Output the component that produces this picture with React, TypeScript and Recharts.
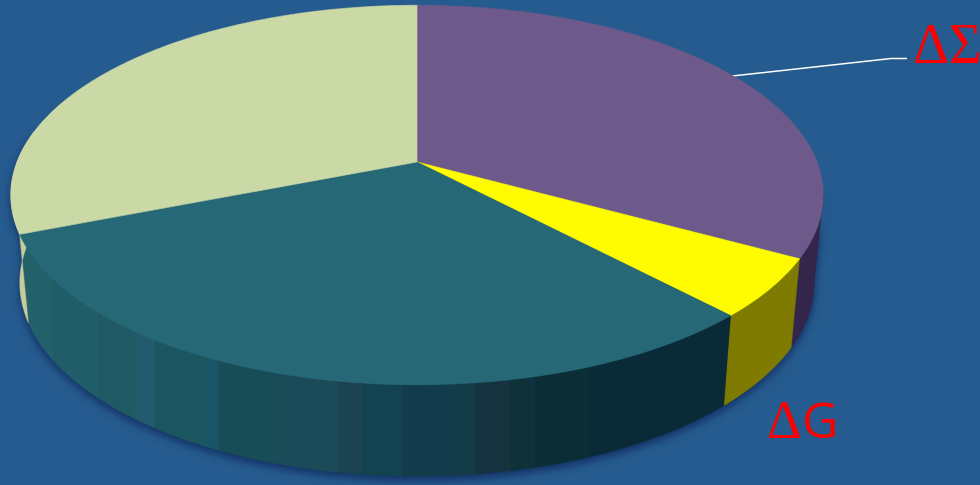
import { Pie, PieChart } from "recharts"

const names = ["ΔΣ", "ΔG", "Lq", "Lg"]
const values = [33, 5, 31, 31]
const topColors = ["#6e5a8a", "#fffb00", "#266876", "#cbd9a6"]
const wallColors = ["#33264a", "#7f7a00", "url(#tealWall)", "#c6cc98"]

// hard-edged shading bands on the teal rim: [x where band starts, colour]
const bandStarts = [0, 53, 98, 135, 155, 207, 218, 273, 338, 362, 402, 452, 475, 510, 530, 535, 590]
const bandColors = [
  "#22606a", "#205d68", "#1f5a64", "#235a6c", "#1b5560", "#1a5468", "#184d58", "#1b4a58", "#1c4352",
  "#114350", "#123c4c", "#133c48", "#15323f", "#0f3238", "#103240", "#0b2e36", "#0a2a38",
]

const topData = names.map((name, i) => ({ name, value: values[i], fill: topColors[i] }))
const wallData = names.map((name, i) => ({ name, value: values[i], fill: wallColors[i] }))

const WIDTH = 980
const HEIGHT = 485
const TILT = 0.46
const PERSPECTIVE = 0.174
const RIM_DROP = 87
const RIM_SCALE_X = 0.978
const RIM_SCALE_Y = 1.02

const rad = (deg: number) => (deg * Math.PI) / 180

// disc point for a pie angle, seen tilted with the far side foreshortened
function topPoint(cx: number, cy: number, r: number, deg: number) {
  const u = Math.cos(rad(deg))
  const v = Math.sin(rad(deg))
  const w = 1 + PERSPECTIVE * v
  return [cx + (r * u) / w, cy - (r * TILT * v) / w]
}

function rimPoint(cx: number, cy: number, r: number, deg: number) {
  const u = Math.cos(rad(deg))
  const v = Math.sin(rad(deg))
  const w = 1 + PERSPECTIVE * v
  return [cx + (r * RIM_SCALE_X * u) / w, cy + RIM_DROP - (r * TILT * RIM_SCALE_Y * v) / w]
}

function arcPoints(from: number, to: number, at: (deg: number) => number[]) {
  const steps = Math.max(2, Math.ceil(Math.abs(from - to)))
  const pts: number[][] = []
  for (let i = 0; i <= steps; i++) pts.push(at(from + ((to - from) * i) / steps))
  return pts
}

const toPath = (pts: number[][]) =>
  "M" + pts.map((p) => `${p[0].toFixed(2)},${p[1].toFixed(2)}`).join("L") + "Z"

function TopSlice(props: any) {
  const { cx, cy, outerRadius, startAngle, endAngle, fill } = props
  const pts = [[cx, cy], ...arcPoints(startAngle, endAngle, (d) => topPoint(cx, cy, outerRadius, d))]
  return <path d={toPath(pts)} fill={fill} stroke={fill} strokeWidth={0.6} />
}

// only the front half of the rim can be seen
function WallSlice(props: any) {
  const { cx, cy, outerRadius, startAngle, endAngle, fill } = props
  const from = Math.min(startAngle, -10)
  const to = Math.max(endAngle, -190)
  if (from <= to) return <g />
  const upper = arcPoints(from, to, (d) => topPoint(cx, cy, outerRadius, d))
  const lower = arcPoints(to, from, (d) => rimPoint(cx, cy, outerRadius, d))
  return <path d={toPath([...upper, ...lower])} fill={fill} stroke={fill} strokeWidth={0.4} />
}

const red = "#ff0000"
const subRed = "#ff3300"

export default function App() {
  return (
    <div style={{ position: "absolute", left: 0, top: 0, width: WIDTH, height: HEIGHT, background: "#265b8f", overflow: "hidden" }}>
      <style>{`.pie-walls { filter: drop-shadow(0 4px 4px rgba(12, 34, 84, 0.75)); }`}</style>
      <PieChart width={WIDTH} height={HEIGHT} margin={{ top: 0, right: 0, bottom: 0, left: 0 }}>
        <defs>
          <linearGradient id="tealWall" gradientUnits="userSpaceOnUse" x1={0} y1={0} x2={WIDTH} y2={0}>
            {bandStarts.flatMap((x, i) => {
              const end = i + 1 < bandStarts.length ? bandStarts[i + 1] : WIDTH
              return [
                <stop key={`${i}a`} offset={x / WIDTH} stopColor={bandColors[i]} />,
                <stop key={`${i}b`} offset={end / WIDTH} stopColor={bandColors[i]} />,
              ]
            })}
          </linearGradient>
        </defs>
        <Pie
          className="pie-walls"
          data={wallData}
          dataKey="value"
          cx={417}
          cy={162}
          outerRadius={400}
          startAngle={90}
          endAngle={-270}
          shape={WallSlice}
          isAnimationActive={false}
        />
        <Pie
          data={topData}
          dataKey="value"
          cx={417}
          cy={162}
          outerRadius={400}
          startAngle={90}
          endAngle={-270}
          shape={TopSlice}
          isAnimationActive={false}
        />
        <polyline points="732,76 891,58.5 907,58.5" fill="none" stroke="#ffffff" strokeWidth={1.6} />
        <text x={913} y={63} fontFamily="Liberation Serif" fontSize={56} fill={red}>ΔΣ</text>
        <text x={767} y={438} fontFamily="Liberation Serif" fontSize={54} fill={red}>Δ</text>
        <text x={802} y={438} fontFamily="Open Sans" fontSize={50} fill={red}>G</text>
        <text x={492} y={95} fontFamily="Open Sans" fontSize={57} fill="#ffffff">33%</text>
        <text x={320} y={72} fontFamily="DejaVu Serif" fontStyle="italic" fontSize={52} fill={red}>ℒ</text>
        <text x={356} y={88} fontFamily="Open Sans" fontSize={33} fill={subRed}>g</text>
        <text x={345} y={290} fontFamily="DejaVu Serif" fontStyle="italic" fontSize={52} fill={red}>ℒ</text>
        <text x={380} y={306} fontFamily="Open Sans" fontSize={33} fill={subRed}>q</text>
      </PieChart>
    </div>
  )
}
